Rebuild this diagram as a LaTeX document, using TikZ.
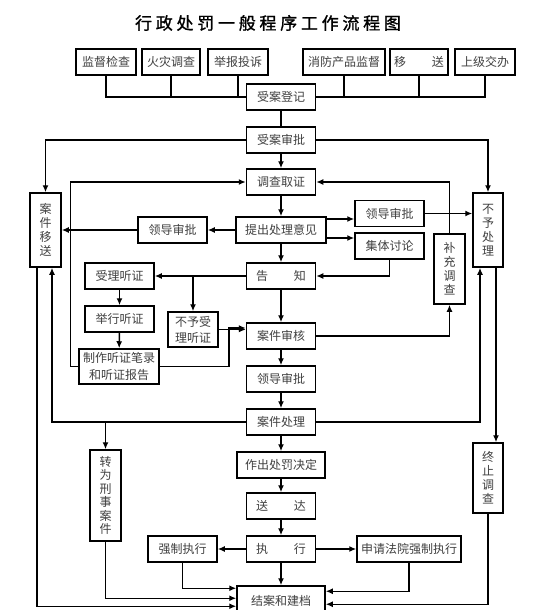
\documentclass[tikz,border=0pt]{standalone}
\usepackage{fontspec}
\setmainfont{Noto Sans CJK SC}
\usetikzlibrary{arrows.meta}

\begin{document}
\begin{tikzpicture}[x=1pt,y=-1pt,>={Latex[length=7pt,width=6pt]},line width=1.5pt,
  box/.style={draw,line width=1.5pt,inner sep=0pt,minimum width=69,minimum height=26,
    font=\fontsize{12}{14}\selectfont,text=black!75,align=center},
  vbox/.style={box,minimum width=31}]
  \clip (0,0) rectangle (553,610);
  \fill[white] (0,0) rectangle (553,610);
  \node (title) at (268,23) {\fontsize{17}{20}\selectfont\addfontfeatures{LetterSpace=22,FakeBold=1.2}行政处罚一般程序工作流程图};
  \node[box,minimum width=60] (jdjc) at (106,62) {监督检查};
  \node[box,minimum width=58] (hzdc) at (171,62) {火灾调查};
  \node[box,minimum width=60] (jbts) at (238,62) {举报投诉};
  \node[box,minimum width=82] (xfjd) at (344,62) {消防产品监督};
  \node[box,minimum width=58] (ys) at (419,62) {移\hspace{26pt}送};
  \node[box,minimum width=60] (sjjb) at (485,62) {上级交办};
  \node[box] (sadj) at (281,97) {受案登记};
  \node[box] (sasp) at (281,140) {受案审批};
  \node[box] (dcqz) at (281,182) {调查取证};
  \node[box,minimum width=90] (tcyj) at (281,230) {提出处理意见};
  \node[box] (gz) at (281,276) {告\hspace{26pt}知};
  \node[box] (ajsh) at (281,336) {案件审核};
  \node[box] (ldsp) at (281,379) {领导审批};
  \node[box] (ajcl) at (281,422) {案件处理};
  \node[box,minimum width=88] (zccf) at (281,465) {作出处罚决定};
  \node[box] (sd) at (281,506) {送\hspace{26pt}达};
  \node[box] (zx) at (281,549) {执\hspace{26pt}行};
  \node[box,minimum width=88,minimum height=30] (jadj) at (281,601) {结案和建档};
  \node[vbox,minimum height=74] (ajys) at (45.5,230) {案\\件\\移\\送};
  \node[box] (ldspz) at (172.5,230) {领导审批};
  \node[box] (slt) at (119.5,276) {受理听证};
  \node[box] (jxt) at (119.5,319) {举行听证};
  \node[box,minimum width=80,minimum height=35,font=\fontsize{12}{17}\selectfont] (zzt) at (119,366.5) {制作听证笔录\\和听证报告};
  \node[box,minimum width=50,minimum height=35,font=\fontsize{12}{16}\selectfont] (bysl) at (193,329.5) {不予受\\理听证};
  \node[vbox,minimum height=91,font=\fontsize{12}{13.5}\selectfont] (zxs) at (105.5,495.5) {转\\为\\刑\\事\\案\\件};
  \node[box] (qzzx) at (182.5,549) {强制执行};
  \node[box] (ldspy) at (389.5,213.5) {领导审批};
  \node[box] (jttl) at (389.5,246) {集体讨论};
  \node[vbox,minimum height=70] (bcdc) at (449.5,269) {补\\充\\调\\查};
  \node[vbox,minimum width=30,minimum height=74] (bycl) at (488,230) {不\\予\\处\\理};
  \node[vbox,minimum width=30,minimum height=70] (zzdc) at (488,478) {终\\止\\调\\查};
  \node[box,minimum width=104] (sqfy) at (409,549) {申请法院强制执行};
  \draw (jdjc) |- (sadj);
  \draw (hzdc) |- (sadj);
  \draw (jbts) |- (sadj);
  \draw (xfjd) |- (sadj);
  \draw (ys) |- (sadj);
  \draw (sjjb) |- (sadj);
  \draw (sadj) -- (sasp);
  \draw[->] (sasp) -- (dcqz);
  \draw[->] (dcqz) -- (tcyj);
  \draw[->] (tcyj) -- (gz);
  \draw[->] (gz) -- (ajsh);
  \draw[->] (ajsh) -- (ldsp);
  \draw[->] (ldsp) -- (ajcl);
  \draw[->] (ajcl) -- (zccf);
  \draw[->] (zccf) -- (sd);
  \draw[->] (sd) -- (zx);
  \draw[->] (zx) -- (jadj);
  \draw[->] (sasp.west) -| (ajys.north);
  \draw[->] (sasp.east) -| (bycl.north);
  \draw[->] (tcyj) -- (ldspz);
  \draw[->] (ldspz) -- (ajys);
  \draw[->] ([yshift=11]tcyj.east) -- ([yshift=-5.5]ldspy.west);
  \draw[->] ([yshift=-8]tcyj.east) -- ([yshift=8]jttl.west);
  \draw[->] (jttl.south) |- (gz.east);
  \draw[->] (ldspy.east) -- (ldspy.east -| bycl.west);
  \draw[->] (bcdc.north) |- (dcqz.east);
  \draw[->] (ajsh.east) -| (bcdc.south);
  \draw[->] (ajcl.east) -| ([xshift=-8]bycl.south);
  \draw[->] ([xshift=8]bycl.south) -- ([xshift=8]zzdc.north);
  \draw[->] (zzdc.south) |- ([yshift=-19]jadj.north east);
  \draw[->] (gz.west) -- (slt.east);
  \draw[->] (gz.west -| bysl.north) -- (bysl.north);
  \draw[->] (slt) -- (jxt);
  \draw[->] (jxt) -- (zzt);
  \draw[->] (bysl.east) -- (bysl.east -| ajsh.west);
  \draw[->] (zzt.east) -- ([xshift=-17]ajsh.west |- zzt.east) |- ([yshift=8]ajsh.west);
  \draw[->] (zzt.west) -- ++(-8,0) |- (dcqz.west);
  \draw[->] (ajcl.west) -| ([xshift=6.5]ajys.south);
  \draw[->] (ajcl.west -| zxs.north) -- (zxs.north);
  \draw[->] ([xshift=-8.5]ajys.south) |- ([yshift=-21]jadj.north west);
  \draw[->] (zxs.south) |- ([yshift=-13]jadj.north west);
  \draw[->] (qzzx.south) |- ([yshift=-3]jadj.north west);
  \draw[->] (zx) -- (qzzx);
  \draw[->] (zx) -- (sqfy);
  \draw[->] (sqfy.south) |- ([yshift=-6]jadj.north east);
\end{tikzpicture}
\end{document}
